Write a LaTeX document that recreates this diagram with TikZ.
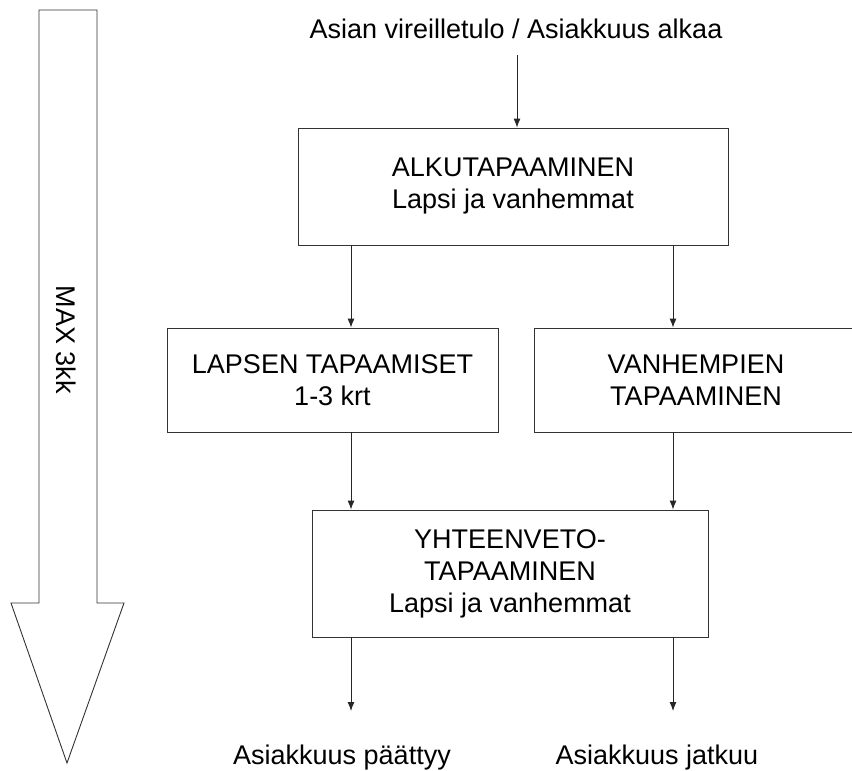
\documentclass[tikz,border=0pt]{standalone}
\usepackage{fontspec}
\setmainfont{Liberation Sans}
\usetikzlibrary{arrows.meta}
\begin{document}
\begin{tikzpicture}[x=1pt,y=-1pt,
  line width=0.9pt,
  box/.style={draw=black!80,fill=white,align=center,inner sep=0pt,font=\fontsize{27}{32}\selectfont},
  lbl/.style={align=center,inner sep=0pt,font=\fontsize{27}{32}\selectfont},
  arr/.style={draw=black!85,-{Latex[length=9pt,width=7pt]}}]
\useasboundingbox (0,0) rectangle (852,771);
\fill[white] (0,0) rectangle (852,771);
% big arrow
\draw[black!80] (39,10) -- (97,10) -- (97,603) -- (124,603) -- (67,763) -- (11,603) -- (39,603) -- cycle;
\node[lbl,rotate=-90] (max) at (66,340) {MAX 3kk};
% nodes
\node[lbl,anchor=base] (start) at (516,38) {Asian vireilletulo / Asiakkuus alkaa};
\node[box,minimum width=430,minimum height=117] (alku) at (513,186.5) {ALKUTAPAAMINEN\\Lapsi ja vanhemmat};
\node[box,minimum width=331,minimum height=104] (lapsen) at (332.5,380) {LAPSEN TAPAAMISET\\1-3 krt};
\node[box,minimum width=324,minimum height=104] (vanh) at (696,380) {VANHEMPIEN\\TAPAAMINEN};
\node[box,minimum width=396,minimum height=127] (yht) at (510,573.5) {YHTEENVETO-\\TAPAAMINEN\\Lapsi ja vanhemmat};
\node[lbl,anchor=base] (end1) at (342,764) {Asiakkuus päättyy};
\node[lbl,anchor=base] (end2) at (657,764) {Asiakkuus jatkuu};
\coordinate (xt) at (517,55);
\coordinate (xl) at (351,0);
\coordinate (xr) at (673,0);
\coordinate (e1) at (351,711);
\coordinate (e2) at (673,711);
% connectors
\draw[arr] (xt) -- (alku.north -| xt);
\draw[arr] (alku.south -| xl) -- (lapsen.north -| xl);
\draw[arr] (alku.south -| xr) -- (vanh.north -| xr);
\draw[arr] (lapsen.south -| xl) -- (yht.north -| xl);
\draw[arr] (vanh.south -| xr) -- (yht.north -| xr);
\draw[arr] (yht.south -| xl) -- (e1);
\draw[arr] (yht.south -| xr) -- (e2);
\end{tikzpicture}
\end{document}
